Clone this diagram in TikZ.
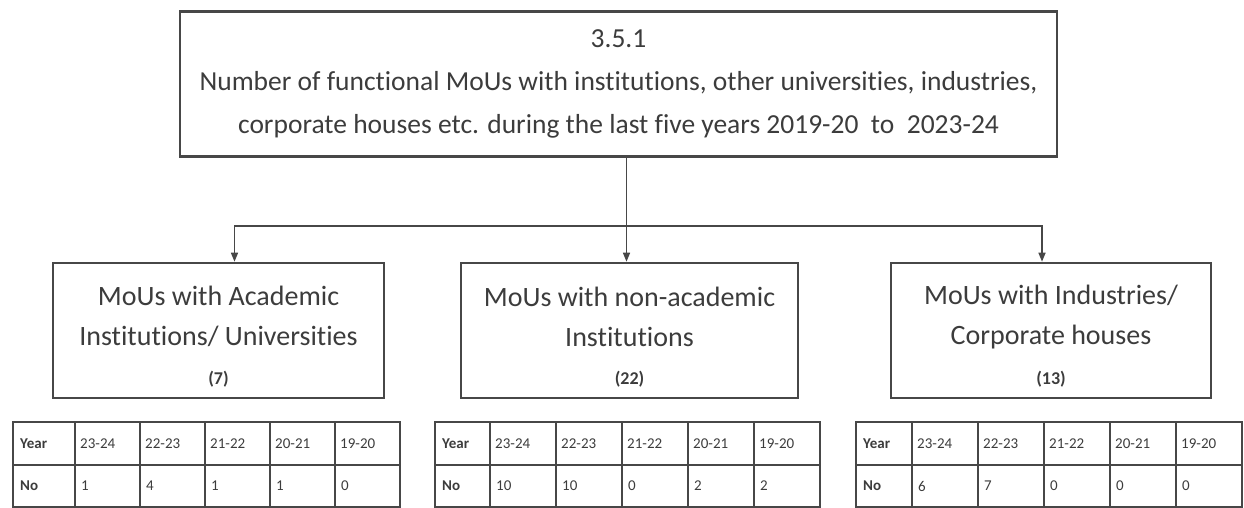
\documentclass[tikz,border=0pt]{standalone}
\usepackage{fontspec}
\setmainfont[Ligatures=NoCommon]{Carlito}
\usetikzlibrary{arrows.meta,positioning,calc}
\definecolor{bordegris}{HTML}{474747}
\definecolor{textogris}{HTML}{3C3C3C}
\tikzset{
    mainbox/.style={
        rectangle,                % caja principal del criterio
        draw=bordegris,           % borde gris oscuro
        line width=2.6pt,         % borde grueso, como en el original
        minimum width=877pt,      % ocupa casi todo el ancho central
        minimum height=145pt,
        align=center,             % tres líneas centradas
        text=textogris,
        font=\fontsize{27.5}{43}\selectfont
    },
    groupbox/.style={
        rectangle,                % caja de cada tipo de MoU
        draw=bordegris,
        line width=2.6pt,
        minimum height=135pt,
        minimum width=#1          % el ancho cambia según la caja
    },
    grouptext/.style={
        align=center,
        text=textogris,
        font=\fontsize{28}{40}\selectfont
    },
    counttext/.style={
        text=textogris,
        font=\fontsize{18}{18}\selectfont\bfseries % total entre paréntesis
    },
    branch/.style={
        draw=bordegris,
        line width=1.5pt,
        -{Triangle[length=9pt,width=7pt]} % punta pequeña y rellena
    },
    tablegrid/.style={
        draw=bordegris,
        line width=1.3pt          % líneas de tabla más finas
    },
    celltext/.style={
        anchor=west,              % texto pegado a la izquierda de la celda
        inner sep=0pt,
        text=textogris,
        font=\fontsize{15}{15}\selectfont
    },
    headtext/.style={
        celltext,
        font=\fontsize{15}{15}\selectfont\bfseries
    }
}
\begin{document}
\begin{tikzpicture}[x=1pt, y=-1pt]
    \useasboundingbox (0,0) rectangle (1244,508);
    \node[mainbox] (criterio) at (618.5,84) {3.5.1\\Number of functional MoUs with institutions, other universities, industries,\\corporate houses etc. during the last five years 2019-20~~to~~2023-24};

    \node[groupbox=331pt] (academic) at (218.5,330.5) {};
    \node[groupbox=337pt] (nonacademic) at (629.5,330.5) {};
    \node[groupbox=320pt] (industry) at (1051,330.5) {};

    \node[grouptext] (academic-txt) at ($(academic.north)+(0,55)$) {MoUs with Academic\\Institutions/ Universities};
    \node[grouptext] (nonacademic-txt) at ($(nonacademic.north)+(0,55)$) {MoUs with non-academic\\Institutions};
    \node[grouptext] (industry-txt) at ($(industry.north)+(0,55)$) {MoUs with Industries/\\Corporate houses};

    \node[counttext] (academic-num) at ($(academic.north)+(0,117)$) {(7)};
    \node[counttext] (nonacademic-num) at ($(nonacademic.north)+(0,117)$) {(22)};
    \node[counttext] (industry-num) at ($(industry.north)+(0,117)$) {(13)};

    \draw[draw=bordegris, line width=1.5pt] ([xshift=8pt]criterio.south) -- ++(0,68) coordinate (reparto);
    \draw[branch] (reparto) -| ([xshift=16pt]academic.north);
    \draw[branch] (reparto) -- (reparto |- nonacademic.north);
    \draw[branch] (reparto) -| ([xshift=-9pt]industry.north);

    \foreach \tx/\fw/\cw/\vals [count=\t] in {13/62/65/{1,4,1,1,0}, 435/55/66/{10,10,0,2,2}, 856/56/66/{6,7,0,0,0}}{
        \draw[tablegrid] (\tx,422) rectangle (\tx+\fw+5*\cw,507);
        \draw[tablegrid] (\tx,465) -- (\tx+\fw+5*\cw,465);
        \foreach \c in {0,...,4}
            \draw[tablegrid] (\tx+\fw+\c*\cw,422) -- (\tx+\fw+\c*\cw,507);
        \node[headtext] (year\t) at (\tx+7,444) {Year};
        \node[headtext] (no\t) at (\tx+7,486) {No};
        \foreach \p [count=\c from 0] in {23-24,22-23,21-22,20-21,19-20}
            \node[celltext] (period\t-\c) at (\tx+\fw+\c*\cw+5,444) {\p};
        \foreach \v [count=\c from 0] in \vals
            \node[celltext] (value\t-\c) at (\tx+\fw+\c*\cw+6,486) {\v};
    }
\end{tikzpicture}
\end{document}
